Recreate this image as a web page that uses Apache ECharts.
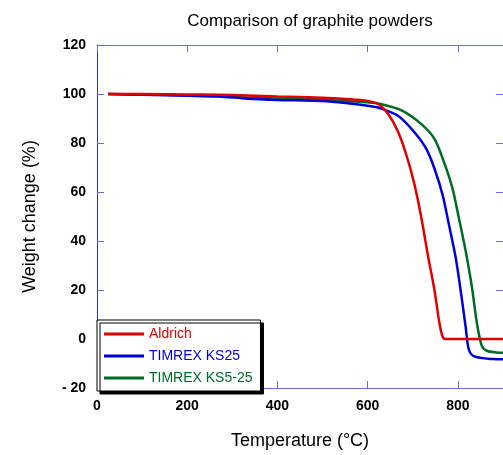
<!DOCTYPE html>
<html lang="en">
<head>
<meta charset="UTF-8">
<title>Comparison of graphite powders</title>
<script src="https://cdn.jsdelivr.net/npm/echarts@6/dist/echarts.min.js"></script>
<style>
  body { margin: 0; background: #fff; }
  #main { width: 503px; height: 455px; }
</style>
</head>
<body>
<div id="main"></div>
<script>
// TGA curves, [temperature °C, weight change %]
var aldrich = [[25,100],[100,100],[200,99.8],[268,99.7],[334,99.4],[400,99.0],[500,98.5],[551,98.0],[600,97.2],[624,95.8],[646,91.7],[668,84.3],[686,75],[704,62.9],[719,49.5],[733,34.7],[748,20],[759,6.6],[766,1],[772,0],[900,0]];
var ks25 = [[25,100],[100,99.7],[200,99.3],[268,99.0],[334,98.1],[400,97.6],[500,97.1],[551,96.3],[600,95.2],[624,94.4],[668,91.0],[704,84.3],[730,77.6],[748,69.6],[766,58.9],[780,46.8],[795,33.4],[806,20],[817,5.2],[824,-4.1],[835,-7],[878,-8.2],[900,-8.3]];
var ks525 = [[25,100],[100,99.8],[200,99.5],[268,99.3],[334,98.5],[400,98.2],[500,97.7],[551,97.1],[600,96.6],[624,96.1],[675,93.3],[719,87.7],[748,81.7],[769,72.3],[788,61.5],[802,49.5],[817,36.1],[831,21.3],[842,6.6],[853,-2.8],[864,-4.8],[885,-5.5],[900,-5.6]];
var names = ['Aldrich', 'TIMREX KS25', 'TIMREX KS5-25'];
var colors = ['#e00000', '#0000dd', '#006b24'];

var chart = echarts.init(document.getElementById('main'));
var axisBlue = '#6a6ae6';
var font = 'Arial, "Liberation Sans", sans-serif';

function tickAxis(extra) {
  return Object.assign({
    axisLine: { show: true, onZero: false, lineStyle: { color: axisBlue, width: 1 } },
    axisTick: { show: true, inside: true, length: 7, lineStyle: { color: axisBlue } },
    splitLine: { show: false }
  }, extra);
}

var option = {
  backgroundColor: '#fff',
  animation: false,
  title: {
    text: 'Comparison of graphite powders',
    left: 305, top: 8, textAlign: 'center',
    textStyle: { fontFamily: font, fontSize: 17, fontWeight: 'normal', color: '#000' }
  },
  grid: { left: 97, top: 45, right: -8, bottom: 62 },
  legend: {
    orient: 'vertical',
    left: 97, top: 320,
    padding: [7, 8, 6, 7],
    itemGap: 8,
    itemWidth: 40, itemHeight: 3,
    icon: 'rect',
    backgroundColor: '#fff',
    borderColor: '#000', borderWidth: 1,
    shadowColor: '#000', shadowBlur: 0, shadowOffsetX: 3, shadowOffsetY: 3,
    textStyle: { fontFamily: font, fontSize: 14 },
    data: names.map(function (n, i) {
      return { name: n, textStyle: { color: colors[i] } };
    })
  },
  xAxis: [
    tickAxis({
      type: 'value', min: 0, max: 900, interval: 200, position: 'bottom',
      name: 'Temperature (°C)', nameLocation: 'middle', nameGap: 44,
      nameTextStyle: { fontFamily: font, fontSize: 18, color: '#000' },
      axisLabel: { margin: 11, showMaxLabel: false, fontFamily: font, fontSize: 14, fontWeight: 'bold', color: '#000' }
    }),
    tickAxis({
      type: 'value', min: 0, max: 900, interval: 200, position: 'top',
      axisLabel: { show: false }
    })
  ],
  yAxis: [
    tickAxis({
      type: 'value', min: -20, max: 120, interval: 20, position: 'left',
      axisLine: { show: true, onZero: false, lineStyle: { color: '#3030d0', width: 1 } },
      name: 'Weight change (%)', nameLocation: 'middle', nameGap: 58,
      nameTextStyle: { fontFamily: font, fontSize: 18, color: '#000' },
      axisLabel: {
        margin: 11, fontFamily: font, fontSize: 14, fontWeight: 'bold', color: '#000',
        formatter: function (v) { return v < 0 ? '- ' + Math.abs(v) : String(v); }
      }
    }),
    tickAxis({
      type: 'value', min: -20, max: 120, interval: 20, position: 'right',
      axisLabel: { show: false }
    })
  ],
  series: [aldrich, ks25, ks525].map(function (d, i) {
    return {
      name: names[i],
      type: 'line',
      data: d,
      showSymbol: false,
      smooth: 0.3,
      color: colors[i],
      lineStyle: { color: colors[i], width: 2.5 },
      z: 3 - i
    };
  })
};
chart.setOption(option);
</script>
</body>
</html>
